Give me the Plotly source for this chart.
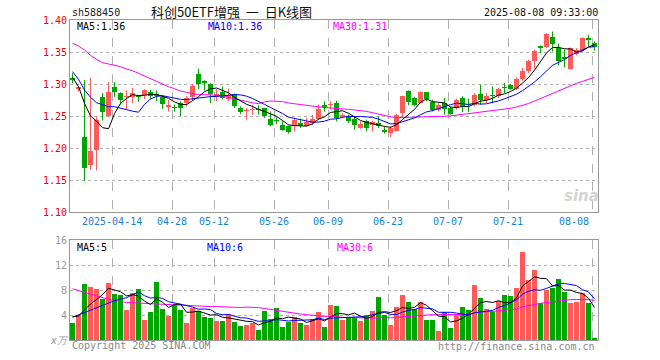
import plotly.graph_objects as go

# ---------------- data ----------------
apr = [2, 3, 7, 8, 9, 10, 11, 14, 15, 16, 17, 18, 21, 22, 23, 24, 25, 28, 29, 30]
may = [6, 7, 8, 9, 12, 13, 14, 15, 16, 19, 20, 21, 22, 23, 26, 27, 28, 29, 30]
jun = [3, 4, 5, 6, 9, 10, 11, 12, 13, 16, 17, 18, 19, 20, 23, 24, 25, 26, 27, 30]
jul = [1, 2, 3, 4, 7, 8, 9, 10, 11, 14, 15, 16, 17, 18, 21, 22, 23, 24, 25, 28, 29, 30, 31]
aug = [1, 4, 5, 6, 7, 8]
dates = ([f"2025-04-{d:02d}" for d in apr] + [f"2025-05-{d:02d}" for d in may] +
         [f"2025-06-{d:02d}" for d in jun] + [f"2025-07-{d:02d}" for d in jul] +
         [f"2025-08-{d:02d}" for d in aug])

tick_dates = ["2025-04-14", "2025-04-28", "2025-05-12", "2025-05-26", "2025-06-09",
              "2025-06-23", "2025-07-07", "2025-07-21", "2025-08-08"]
tick_labels = ["2025-04-14", "04-28", "05-12", "05-26", "06-09", "06-23", "07-07", "07-21", "08-08"]

opens = [1.309, 1.292, 1.217, 1.173, 1.197, 1.280, 1.250, 1.295, 1.286, 1.279,
         1.279, 1.282, 1.283, 1.2875, 1.285, 1.279, 1.264, 1.2635, 1.270, 1.271,
         1.279, 1.316, 1.304, 1.300, 1.280, 1.287, 1.2766, 1.285, 1.263, 1.258,
         1.260, 1.261, 1.2625, 1.2458, 1.2425, 1.2365, 1.234, 1.235, 1.239, 1.235,
         1.239, 1.2458, 1.2677, 1.267, 1.2703, 1.248, 1.2495, 1.2458, 1.232, 1.2427,
         1.2365, 1.239, 1.2286, 1.2234, 1.227, 1.2547, 1.2896, 1.2786, 1.2703, 1.287,
         1.2719, 1.260, 1.2703, 1.2625, 1.2625, 1.2777, 1.2685, 1.2677, 1.285, 1.2745,
         1.2815, 1.281, 1.2945, 1.299, 1.2927, 1.3083, 1.3208, 1.3354, 1.3575, 1.3573,
         1.3734, 1.3563, 1.3427, 1.324, 1.3474, 1.3536, 1.3724, 1.364]
highs = [1.317, 1.297, 1.306, 1.310, 1.249, 1.286, 1.303, 1.303, 1.287, 1.290,
         1.294, 1.283, 1.292, 1.291, 1.290, 1.283, 1.275, 1.268, 1.273, 1.281,
         1.300, 1.324, 1.306, 1.301, 1.292, 1.296, 1.293, 1.285, 1.265, 1.2625,
         1.267, 1.267, 1.2625, 1.257, 1.248, 1.2417, 1.235, 1.245, 1.2458, 1.247,
         1.252, 1.268, 1.273, 1.273, 1.274, 1.2547, 1.252, 1.2495, 1.2417, 1.2443,
         1.2427, 1.2495, 1.234, 1.234, 1.2536, 1.2818, 1.290, 1.280, 1.2885, 1.287,
         1.2755, 1.270, 1.278, 1.265, 1.277, 1.281, 1.277, 1.286, 1.299, 1.286,
         1.296, 1.2937, 1.3016, 1.300, 1.3104, 1.325, 1.338, 1.3536, 1.3604, 1.3797,
         1.382, 1.363, 1.3536, 1.357, 1.356, 1.373, 1.377, 1.3667]
lows = [1.301, 1.288, 1.149, 1.166, 1.165, 1.243, 1.248, 1.280, 1.268, 1.261,
        1.270, 1.272, 1.276, 1.276, 1.273, 1.261, 1.257, 1.257, 1.250, 1.265,
        1.275, 1.292, 1.290, 1.270, 1.273, 1.276, 1.273, 1.2625, 1.253, 1.244,
        1.252, 1.252, 1.247, 1.234, 1.237, 1.227, 1.2224, 1.226, 1.231, 1.234,
        1.236, 1.244, 1.257, 1.260, 1.2417, 1.247, 1.239, 1.2286, 1.230, 1.226,
        1.226, 1.231, 1.2224, 1.2167, 1.226, 1.2469, 1.2667, 1.265, 1.2693, 1.273,
        1.257, 1.257, 1.252, 1.252, 1.260, 1.256, 1.256, 1.265, 1.2677, 1.270,
        1.270, 1.278, 1.286, 1.291, 1.291, 1.305, 1.3172, 1.324, 1.3485, 1.356,
        1.351, 1.329, 1.326, 1.3224, 1.345, 1.352, 1.359, 1.352]
closes = [1.307, 1.296, 1.169, 1.195, 1.243, 1.256, 1.2875, 1.287, 1.275, 1.281,
          1.286, 1.280, 1.290, 1.282, 1.281, 1.268, 1.267, 1.2625, 1.2625, 1.2786,
          1.297, 1.3005, 1.301, 1.285, 1.285, 1.278, 1.2823, 1.265, 1.257, 1.259,
          1.261, 1.259, 1.2495, 1.2365, 1.2415, 1.2286, 1.2245, 1.244, 1.234, 1.240,
          1.2458, 1.2615, 1.2625, 1.268, 1.2469, 1.252, 1.2417, 1.2365, 1.238, 1.232,
          1.240, 1.234, 1.2245, 1.231, 1.252, 1.2807, 1.2714, 1.2667, 1.287, 1.277,
          1.260, 1.2677, 1.261, 1.2536, 1.2755, 1.2656, 1.2675, 1.2833, 1.2745, 1.282,
          1.281, 1.292, 1.2935, 1.2927, 1.3083, 1.3208, 1.3354, 1.351, 1.357, 1.3786,
          1.363, 1.3365, 1.3396, 1.3563, 1.3536, 1.3719, 1.3682, 1.3573]

volumes = [2.77, 3.95, 9.0, 8.43, 8.2, 6.6, 9.17, 7.4, 7.25, 4.85,
           7.57, 8.2, 3.25, 4.53, 9.33, 5.0, 3.9, 5.65, 4.85, 2.77,
           5.17, 4.69, 3.73, 3.57, 3.09, 3.09, 4.21, 2.93, 2.29, 2.45,
           2.77, 1.65, 4.69, 3.41, 5.17, 2.13, 2.93, 3.73, 2.77, 2.45,
           3.41, 4.53, 2.13, 5.65, 5.49, 3.25, 3.57, 3.57, 3.09, 3.89,
           4.69, 6.93, 4.05, 2.45, 5.33, 7.25, 6.13, 5.01, 6.13, 3.25,
           3.25, 1.49, 4.53, 1.97, 4.05, 5.33, 4.85, 8.85, 6.77, 5.01,
           4.53, 6.29, 7.25, 7.09, 8.37, 14.13, 9.65, 11.25, 5.97, 8.05,
           8.37, 9.81, 7.73, 5.97, 6.13, 7.57, 5.97, 0.37]

# moving-average values before a full window is available
ma5_head = [1.3104, 1.2958, 1.2698, 1.2500]
ma10_head = [1.3193, 1.3073, 1.2906, 1.2792, 1.2708, 1.2672, 1.2646, 1.2646, 1.2620]
ma30_head = [1.3635, 1.3594, 1.3531, 1.3448, 1.3385, 1.3333, 1.3313, 1.3297, 1.3271, 1.3234,
             1.3208, 1.3167, 1.3125, 1.3078, 1.3036, 1.2995, 1.2958, 1.2927, 1.2891, 1.2870,
             1.2854, 1.2833, 1.2835, 1.2833, 1.2823, 1.2813, 1.2792, 1.2766, 1.2745]
vma5_head = [3.73, 3.84, 4.8, 5.76]
vma10_head = [3.63, 4.0, 4.43, 4.8, 5.23, 5.55, 5.97, 6.29, 6.56]
vma30_head = [8.2, 7.9, 7.6, 7.3, 7.0, 6.8, 6.5, 6.3, 6.1, 6.0,
              5.95, 5.9, 5.8, 5.75, 5.7, 5.7, 5.6, 5.55, 5.5, 5.5,
              5.45, 5.45, 5.4, 5.35, 5.35, 5.3, 5.3, 5.25, 5.2]


def moving_avg(vals, n, head):
    out = list(head)
    for i in range(len(head), len(vals)):
        out.append(sum(vals[i - n + 1:i + 1]) / n)
    return out


ma5 = moving_avg(closes, 5, ma5_head)
ma10 = moving_avg(closes, 10, ma10_head)
ma30 = moving_avg(closes, 30, ma30_head)
vma5 = moving_avg(volumes, 5, vma5_head)
vma10 = moving_avg(volumes, 10, vma10_head)
vma30 = moving_avg(volumes, 30, vma30_head)

# ---------------- styling ----------------
RED = "#ff5a5a"
GREEN = "#00a600"
MONO = "DejaVu Sans Mono"
idx = list(range(len(dates)))
rising = [c >= o for o, c in zip(opens, closes)]
tick_idx = [dates.index(d) - 0.35 for d in tick_dates]

fig = go.Figure()

# wicks
for up, col in ((True, RED), (False, GREEN)):
    wx, wy = [], []
    for i in idx:
        if rising[i] == up:
            wx += [i, i, None]
            wy += [lows[i], highs[i], None]
    fig.add_trace(go.Scatter(x=wx, y=wy, mode="lines", line=dict(color=col, width=1),
                             xaxis="x", yaxis="y", hoverinfo="skip", showlegend=False))

# bodies
for up, col in ((True, RED), (False, GREEN)):
    bx = [i for i in idx if rising[i] == up]
    fig.add_trace(go.Bar(
        x=bx,
        base=[min(opens[i], closes[i]) for i in bx],
        y=[max(abs(closes[i] - opens[i]), 0.0017) for i in bx],
        width=0.82, marker=dict(color=col, line=dict(width=0)),
        xaxis="x", yaxis="y", showlegend=False))

# price MAs
for vals, col in ((ma30, "#ff00ff"), (ma10, "#0000ff"), (ma5, "#000000")):
    fig.add_trace(go.Scatter(x=idx, y=vals, mode="lines", line=dict(color=col, width=1),
                             xaxis="x", yaxis="y", showlegend=False))

# volume bars
fig.add_trace(go.Bar(x=idx, y=volumes, width=0.82,
                     marker=dict(color=[RED if r else GREEN for r in rising], line=dict(width=0)),
                     xaxis="x2", yaxis="y2", showlegend=False))
for vals, col in ((vma30, "#ff00ff"), (vma10, "#0000ff"), (vma5, "#000000")):
    fig.add_trace(go.Scatter(x=idx, y=vals, mode="lines", line=dict(color=col, width=1),
                             xaxis="x2", yaxis="y2", showlegend=False))

xcommon = dict(range=[-0.42, 87.58], tickvals=tick_idx, showticklabels=False, ticks="",
               showgrid=True, gridcolor="#b0b0b0", griddash="dash", gridwidth=1,
               showline=True, mirror=True, linecolor="#999999", linewidth=1, zeroline=False)
pticks = [1.10, 1.15, 1.20, 1.25, 1.30, 1.35, 1.40]
vticks = [0, 4, 8, 12, 16]

fig.update_layout(
    width=660, height=360,
    margin=dict(l=70, r=62, t=20, b=20),
    paper_bgcolor="white", plot_bgcolor="white",
    barmode="overlay", bargap=0,
    showlegend=False,
    hovermode=False,
    xaxis=dict(domain=[0, 1], anchor="y", **xcommon),
    xaxis2=dict(domain=[0, 1], anchor="y2", matches="x", **xcommon),
    yaxis=dict(domain=[0.4, 1.0], range=[1.10, 1.40], tickvals=pticks,
               ticktext=[f"{v:.2f}" for v in pticks], ticks="",
               tickfont=dict(family=MONO, size=10, color="#ee0000"),
               showgrid=True, gridcolor="#b0b0b0", griddash="dot", gridwidth=1,
               showline=True, mirror=True, linecolor="#999999", linewidth=1, zeroline=False),
    yaxis2=dict(domain=[0, 0.3125], range=[0, 16], tickvals=vticks,
                ticktext=["<i>x万</i>"] + [str(v) for v in vticks[1:]], ticks="",
                tickfont=dict(family=MONO, size=10, color="#999999"),
                showgrid=True, gridcolor="#b0b0b0", griddash="dot", gridwidth=1,
                showline=True, mirror=True, linecolor="#999999", linewidth=1, zeroline=False),
    font=dict(family=MONO, size=10, color="#000"),
)

ann = []


def paper_y(py):
    return (340 - py) / 320


def paper_x(px):
    return (px - 70) / 528


ann.append(dict(x=paper_x(70), y=paper_y(12), text="sh588450", xanchor="left",
                font=dict(family=MONO, size=10, color="#222")))
ann.append(dict(x=paper_x(231), y=paper_y(11.5), text="科创50ETF增强&nbsp;&nbsp;一&nbsp;&nbsp;日K线图",
                xanchor="center",
                font=dict(family="Noto Sans CJK SC", size=13, color="#111")))
ann.append(dict(x=paper_x(600), y=paper_y(12), text="2025-08-08 09:33:00", xanchor="right",
                font=dict(family=MONO, size=10, color="#111")))
ann.append(dict(x=paper_x(75), y=paper_y(26.5), text=f"MA5:{ma5[-1]:.2f}", xanchor="left",
                font=dict(family=MONO, size=10, color="#000")))
ann.append(dict(x=paper_x(206), y=paper_y(26.5), text=f"MA10:{ma10[-1]:.2f}", xanchor="left",
                font=dict(family=MONO, size=10, color="#0000ff")))
ann.append(dict(x=paper_x(331), y=paper_y(26.5), text=f"MA30:{ma30[-1]:.2f}", xanchor="left",
                font=dict(family=MONO, size=10, color="#ff00ff")))
ann.append(dict(x=paper_x(75), y=paper_y(247), text=f"MA5:{int(vma5[-1])}", xanchor="left",
                font=dict(family=MONO, size=10, color="#000")))
ann.append(dict(x=paper_x(205), y=paper_y(247), text=f"MA10:{int(vma10[-1])}", xanchor="left",
                font=dict(family=MONO, size=10, color="#0000ff")))
ann.append(dict(x=paper_x(335), y=paper_y(247), text=f"MA30:{int(vma30[-1])}", xanchor="left",
                font=dict(family=MONO, size=10, color="#ff00ff")))
ann.append(dict(x=paper_x(70), y=paper_y(345.5), text="Copyright 2025 SINA.COM", xanchor="left",
                font=dict(family=MONO, size=10, color="#888")))
ann.append(dict(x=paper_x(597), y=paper_y(346), text="http://finance.sina.com.cn", xanchor="right",
                font=dict(family=MONO, size=10, color="#888")))
ann.append(dict(x=paper_x(581), y=paper_y(196), text="<b><i>sina</i></b>", xanchor="center",
                font=dict(family="DejaVu Sans", size=15, color="#d4d4d4")))

for k, (t, lab) in enumerate(zip(tick_idx, tick_labels)):
    last = k == len(tick_labels) - 1
    ann.append(dict(x=t, xref="x", y=paper_y(221.5), yref="paper", text=lab,
                    xanchor="right" if last else "center", xshift=-1 if last else 0,
                    yanchor="middle", showarrow=False,
                    font=dict(family=MONO, size=10, color="#1a80d6")))

for a in ann:
    a.setdefault("xref", "paper")
    a.setdefault("yref", "paper")
    a.setdefault("yanchor", "middle")
    a["showarrow"] = False
fig.update_layout(annotations=ann)

fig.write_html("out.html", config={"displayModeBar": False, "staticPlot": True},
               post_script="document.body.style.margin='0px';")
